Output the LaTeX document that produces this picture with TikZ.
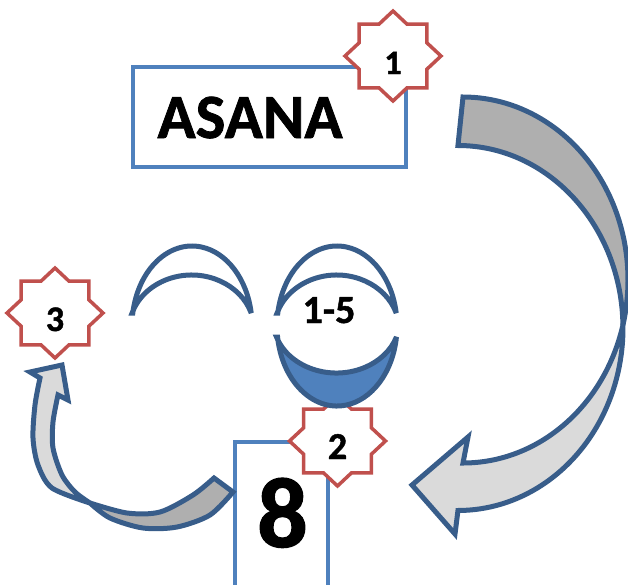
\documentclass[tikz,border=0pt]{standalone}
\usepackage{fontspec}
\setmainfont{Carlito}[BoldFeatures={FakeBold=1.2}]
\definecolor{boxblue}{HTML}{4F81BD}
\definecolor{edgeblue}{HTML}{385D8A}
\definecolor{starred}{HTML}{C0504D}
\definecolor{arrowdark}{HTML}{AFAFAF}
\definecolor{arrowlight}{HTML}{DADADA}
\definecolor{moonblue}{HTML}{4F81BD}
\newcommand{\octstar}[2]{%
  \draw[starline] plot[domain=0:15, samples=16]
    ({#1+(1-0.235*mod(\x,2))*48*cos(\x*22.5)}, {#2+(1-0.235*mod(\x,2))*45*sin(\x*22.5)}) -- cycle;}
\begin{document}
\begin{tikzpicture}[x=1pt,y=-1pt, line join=miter, miter limit=4,
  blockbox/.style={draw=boxblue, line width=4pt, fill=white, inner sep=0pt},
  starline/.style={draw=starred, line width=3.5pt, fill=white},
  bandline/.style={draw=edgeblue, line width=5pt},
  lbl/.style={inner sep=0pt, anchor=base}]
\useasboundingbox (0,0) rectangle (628,584);
\clip (0,0) rectangle (628,584);

% ASANA box
\node[blockbox, minimum width=273pt, minimum height=100pt] (asana) at (269.5,117) {};
\node[lbl, font=\fontsize{63}{63}\selectfont\bfseries] (asanatxt) at (250,138) {ASANA};
% star 1
\octstar{393}{56}
\node[lbl, font=\fontsize{34}{34}\selectfont\bfseries] (s1) at (393,74) {1};

% big curved arrow (back part)
\draw[bandline, fill=arrowdark] (463,97)
  arc[start angle=270, end angle=374.24, x radius=165, y radius=183]
  arc[start angle=359.06, end angle=270, x radius=165, y radius=182.5] -- cycle;
% big curved arrow (front part)
\draw[bandline, fill=arrowlight] (622.95,325)
  arc[start angle=359.06, end angle=450, x radius=165, y radius=182.5]
  -- (455,534) -- (412,485) -- (468,437) -- (463,463)
  arc[start angle=90, end angle=14.24, x radius=165, y radius=183] -- cycle;

% box 8
\node[blockbox, minimum width=93pt, minimum height=160pt] (eight) at (281,522) {};
\node[lbl, font=\fontsize{100}{100}\selectfont\bfseries] (eighttxt) at (282.5,547) {8};
% star 2
\octstar{337.5}{441}
\node[lbl, font=\fontsize{38}{38}\selectfont\bfseries] (s2) at (337.5,459) {2};

% crescents
\draw[bandline, fill=white] (132.8,313)
  arc[start angle=189.35, end angle=350.65, x radius=60, y radius=80]
  arc[start angle=342, end angle=198, x radius=62.6, y radius=55] -- cycle;
\draw[bandline, fill=white] (277.8,313)
  arc[start angle=189.35, end angle=350.65, x radius=60, y radius=80]
  arc[start angle=342, end angle=198, x radius=62.6, y radius=55] -- cycle;
\draw[bandline, fill=moonblue] (277.57,337)
  arc[start angle=172.1, end angle=7.9, x radius=60, y radius=80]
  arc[start angle=18.7, end angle=161.3, x radius=63.3, y radius=53] -- cycle;
\node[lbl, font=\fontsize{40}{40}\selectfont\bfseries] (range) at (329,323) {1-5};

% star 3
\octstar{55}{313}
\node[lbl, font=\fontsize{36}{36}\selectfont\bfseries] (s3) at (55,331) {3};

% small curved arrow (back part)
\draw[bandline, fill=arrowdark]
  plot[smooth] coordinates {(90,503) (127,513) (160,512) (193,495) (214,478)}
  -- (233,492)
  -- plot[smooth] coordinates {(233,492) (210,515) (177,527) (143,528) (110,518) (90,503)} -- cycle;
% small curved arrow (front part)
\draw[bandline, fill=arrowlight]
  plot[smooth] coordinates {(90,503) (52,488) (38,465) (33,438) (35,405) (40,378)}
  -- (30,372) -- (62,365) -- (68,400) -- (58,395)
  -- plot[smooth] coordinates {(58,395) (53,422) (53,448) (62,475) (75,492) (90,503)} -- cycle;
\end{tikzpicture}
\end{document}
